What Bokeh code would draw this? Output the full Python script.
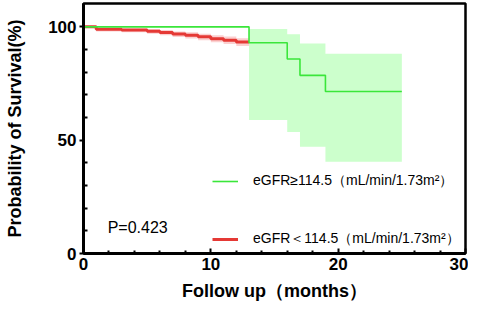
from bokeh.plotting import figure
from bokeh.models import Range1d, FixedTicker, Legend, LegendItem, Label, ColumnDataSource
from bokeh.embed import file_html
from bokeh.resources import INLINE
import math

# ---- data ----
# eGFR >= 114.5 group (green)
hi_t = [0, 13, 16, 17, 19, 25]
hi_s = [100, 93.0, 85.8, 78.6, 71.5, 71.5]
hi_lo = [100, 58.9, 53.6, 47.1, 40.5, 40.5]
hi_up = [100, 99.1, 96.7, 92.7, 88.1, 88.1]

# eGFR < 114.5 group (red)
lo_t = [0, 1, 3, 5, 6, 7, 8, 9, 10, 11, 12, 13]
lo_s = [100, 98.9, 98.6, 98.1, 97.5, 96.8, 96.3, 95.6, 94.8, 94.1, 93.3, 93.3]
lo_lo = [100, 98.0, 97.6, 97.0, 96.3, 95.5, 94.9, 94.1, 93.2, 92.4, 91.5, 91.5]
lo_up = [100, 99.5, 99.3, 99.0, 98.6, 98.0, 97.6, 97.0, 96.3, 95.7, 95.0, 95.0]

x_ticks = [0, 10, 20, 30]
x_minor = [2, 4, 6, 8, 12, 14, 16, 18, 22, 24, 26, 28]
y_ticks = [0, 50, 100]
y_minor = [10, 20, 30, 40, 60, 70, 80, 90]

label_hi = "eGFR≥114.5（mL/min/1.73m²）"
label_lo = "eGFR＜114.5（mL/min/1.73m²）"
p_text = "P=0.423"

GREEN = "#3ae63a"
GREEN_BAND = "#ccffcc"
RED = "#e53935"
RED_BAND = "#fbd0d0"
FONT = "Liberation Sans"

p = figure(width=468, height=303, output_backend="svg", toolbar_location=None,
           x_range=Range1d(0, 30), y_range=Range1d(0, 110.3),
           min_border_left=83, min_border_right=3, min_border_top=3, min_border_bottom=50)

p.xgrid.visible = False
p.ygrid.visible = False
p.outline_line_color = "black"
p.outline_line_width = 2.5
p.background_fill_color = "white"
p.border_fill_color = "white"

hi_src = ColumnDataSource(dict(t=hi_t, s=hi_s, lo=hi_lo, up=hi_up))
lo_src = ColumnDataSource(dict(t=lo_t, s=lo_s, lo=lo_lo, up=lo_up))

p.varea_step(x="t", y1="lo", y2="up", source=hi_src, step_mode="after", fill_color=GREEN_BAND)
p.varea_step(x="t", y1="lo", y2="up", source=lo_src, step_mode="after", fill_color=RED_BAND)

r_lo = p.step(x="t", y="s", source=lo_src, mode="after", line_color=RED, line_width=3)
r_hi = p.step(x="t", y="s", source=hi_src, mode="after", line_color=GREEN, line_width=1.6)

# empty censor-mark renderers used for the legend glyph tick
c_hi = p.scatter(x=[], y=[], marker="dash", angle=math.pi / 2, size=5, line_color=GREEN, line_width=1)
c_lo = p.scatter(x=[], y=[], marker="dash", angle=math.pi / 2, size=5, line_color="#f08080", line_width=1)

legend = Legend(items=[LegendItem(label=label_hi, renderers=[r_hi, c_hi]),
                       LegendItem(label=label_lo, renderers=[r_lo, c_lo])],
                location=(129, 4), padding=0, margin=0, spacing=38,
                glyph_width=26, glyph_height=20, label_standoff=15,
                label_text_font=FONT, label_text_font_size="14px", label_text_color="black",
                border_line_alpha=0, background_fill_alpha=0)
p.add_layout(legend, "center")

p.add_layout(Label(x=1.9, y=11.6, text=p_text, text_font=FONT, text_font_size="16px",
                   text_baseline="middle", text_color="black"))

for ax in (p.xaxis[0], p.yaxis[0]):
    ax.axis_line_width = 3
    ax.axis_line_color = "black"
    ax.major_tick_line_width = 2
    ax.minor_tick_line_width = 2
    ax.major_tick_line_color = "black"
    ax.minor_tick_line_color = "black"
    ax.major_label_text_font = FONT
    ax.major_label_text_font_style = "bold"
    ax.major_label_text_font_size = "17px"
    ax.major_label_text_color = "black"
    ax.axis_label_text_font = FONT
    ax.axis_label_text_font_style = "bold"
    ax.axis_label_text_font_size = "18px"
    ax.axis_label_text_color = "black"

p.xaxis.ticker = FixedTicker(ticks=x_ticks, minor_ticks=x_minor)
p.yaxis.ticker = FixedTicker(ticks=y_ticks, minor_ticks=y_minor)

p.xaxis.major_tick_in = 5
p.xaxis.major_tick_out = 0
p.xaxis.minor_tick_in = 3
p.xaxis.minor_tick_out = 0
p.xaxis.major_label_standoff = 4
p.xaxis.axis_label = "Follow up（months）"
p.xaxis.axis_label_standoff = 8

p.yaxis.major_tick_in = 0
p.yaxis.major_tick_out = 4
p.yaxis.minor_tick_in = 4
p.yaxis.minor_tick_out = 0
p.yaxis.major_label_standoff = 3
p.yaxis.axis_label = "Probability of Survival(%)"
p.yaxis.axis_label_standoff = 20

open("out.html", "w").write(file_html(p, INLINE))
